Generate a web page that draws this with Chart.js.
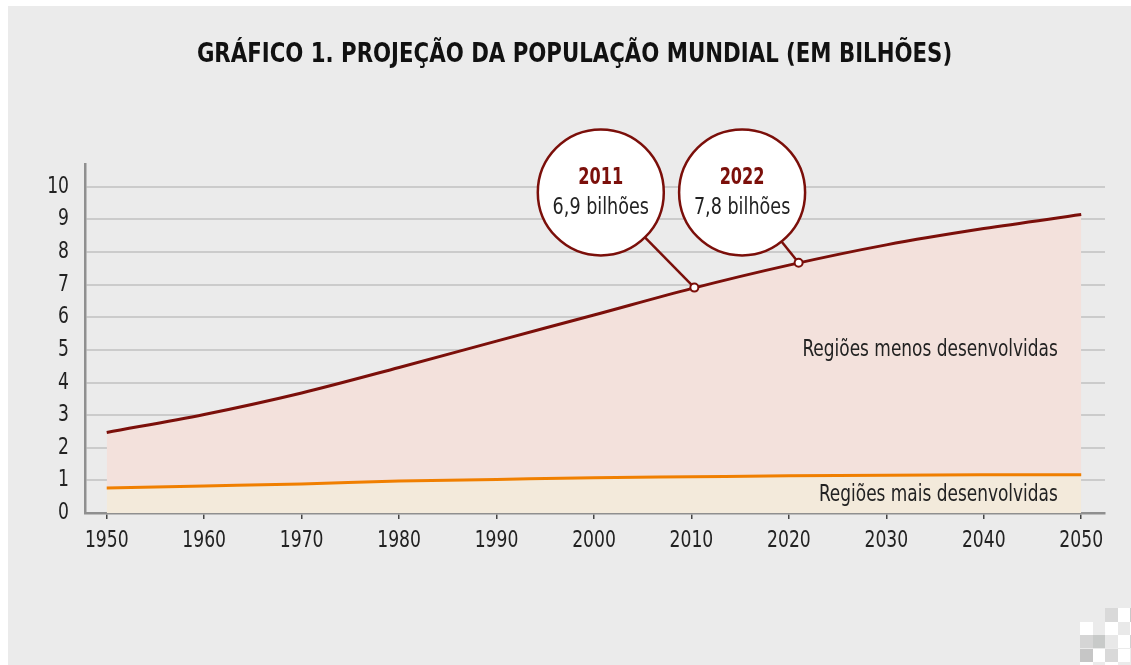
<!DOCTYPE html>
<html lang="pt">
<head>
<meta charset="utf-8">
<title>Projeção da população mundial</title>
<script src="https://cdn.jsdelivr.net/npm/chart.js@4.4.1/dist/chart.umd.min.js"></script>
<style>
  html, body { margin: 0; padding: 0; background: #ffffff; }
  body { width: 1131px; height: 665px; position: relative; overflow: hidden; }
  #panel { position: absolute; left: 8px; top: 6px; right: 0; bottom: 0; background: #ebebeb; }
  #wrap { position: absolute; left: 0; top: 0; width: 1131px; height: 665px; }
  .sq { position: absolute; width: 12.5px; height: 13.4px; }
</style>
</head>
<body>
<div id="panel"></div>
<div id="deco"></div>
<div id="wrap"><canvas id="popChart" width="1131" height="665"></canvas></div>
<script>
// --- data ---
const years = [1950, 1960, 1970, 1980, 1990, 2000, 2010, 2020, 2030, 2040, 2050];
const worldTotal = [2.47, 3.02, 3.68, 4.46, 5.27, 6.07, 6.88, 7.6, 8.22, 8.72, 9.15];   // top line (menos + mais desenvolvidas)
const moreDeveloped = [0.77, 0.83, 0.89, 0.98, 1.03, 1.08, 1.11, 1.14, 1.16, 1.17, 1.17];
const xTicks = [1950, 1960, 1970, 1980, 1990, 2000, 2010, 2020, 2030, 2040, 2050];
const yTicks = [0, 1, 2, 3, 4, 5, 6, 7, 8, 9, 10];

// callouts
const calloutYears = ['2011', '2022'];
const calloutTexts = ['6,9 bilhões', '7,8 bilhões'];
const markerX = [2010.3, 2021.0];
const markerY = [6.91, 7.67];
const bubbleX = [2000.7, 2015.2];
const bubbleY = [9.83, 9.83];

// area labels
const areaLabels = ['Regiões menos desenvolvidas', 'Regiões mais desenvolvidas'];
const areaLabelX = [2047.6, 2047.6];
const areaLabelY = [4.99, 0.55];

const TITLE = 'GRÁFICO 1. PROJEÇÃO DA POPULAÇÃO MUNDIAL (EM BILHÕES)';
const FONT = "'Liberation Sans Narrow', 'DejaVu Sans Condensed', 'Roboto', sans-serif";
const DARK_RED = '#7b0f0a';
const ORANGE = '#f07f00';

// little checker logo in the corner
const decoCells = [
  [0, 2, '#d9d9d9'], [0, 3, '#ffffff'], [0, 4, '#c8c8c8'],
  [1, 0, '#ffffff'], [1, 2, '#ffffff'], [1, 3, '#e9e9e9'], [1, 4, '#ffffff'],
  [2, 0, '#d5d5d5'], [2, 1, '#c8cac9'], [2, 2, '#e8e8e8'], [2, 3, '#ffffff'], [2, 4, '#d0d0d0'],
  [3, 0, '#c6c6c6'], [3, 1, '#ffffff'], [3, 2, '#d9d9d9'], [3, 3, '#ffffff'],
  [4, 0, '#ffffff'], [4, 2, '#ffffff']
];
const deco = document.getElementById('deco');
decoCells.forEach(([r, c, col]) => {
  const d = document.createElement('div');
  d.className = 'sq';
  d.style.left = (1080 + c * 12.5) + 'px';
  d.style.top = (608.3 + r * 13.4) + 'px';
  d.style.background = col;
  deco.appendChild(d);
});

const toPoints = arr => years.map((y, i) => ({ x: y, y: arr[i] }));

// no narrow font installed, so squeeze text horizontally around its anchor
function narrowText(ctx, text, x, y, sx) {
  ctx.save();
  ctx.translate(x, y);
  ctx.scale(sx, 1);
  ctx.fillText(text, 0, 0);
  ctx.restore();
}

// squeeze the axis tick labels the library draws
const narrowTicks = {
  id: 'narrowTicks',
  beforeDraw(chart) {
    const ctx = chart.ctx;
    const orig = ctx.fillText;
    chart.$origFillText = orig;
    ctx.fillText = function (t, x, y, mw) {
      this.save();
      this.translate(x, y);
      this.scale(0.83, 1);
      if (mw === undefined) orig.call(this, t, 0, 0);
      else orig.call(this, t, 0, 0, mw / 0.83);
      this.restore();
    };
  },
  beforeDatasetsDraw(chart) {
    if (chart.$origFillText) {
      chart.ctx.fillText = chart.$origFillText;
      delete chart.$origFillText;
    }
  }
};

// title, callout bubbles + leader lines, area labels
const calloutPlugin = {
  id: 'callouts',
  beforeDatasetsDraw(chart) {
    const { ctx, scales: { x, y } } = chart;
    const R = 63;
    ctx.save();
    ctx.textAlign = 'center';
    ctx.textBaseline = 'middle';
    ctx.fillStyle = '#111111';
    ctx.font = 'bold 27px ' + FONT;
    narrowText(ctx, TITLE, 574.5, 55, 0.876);

    calloutYears.forEach((label, i) => {
      const cx = x.getPixelForValue(bubbleX[i]);
      const cy = y.getPixelForValue(bubbleY[i]);
      const mx = x.getPixelForValue(markerX[i]);
      const my = y.getPixelForValue(markerY[i]);
      const dx = mx - cx, dy = my - cy;
      const len = Math.hypot(dx, dy);
      ctx.strokeStyle = DARK_RED;
      ctx.lineWidth = 2.5;
      ctx.beginPath();
      ctx.moveTo(cx + dx / len * R, cy + dy / len * R);
      ctx.lineTo(mx, my);
      ctx.stroke();

      ctx.beginPath();
      ctx.arc(cx, cy, R, 0, Math.PI * 2);
      ctx.fillStyle = '#ffffff';
      ctx.fill();
      ctx.stroke();

      ctx.fillStyle = DARK_RED;
      ctx.font = 'bold 23px ' + FONT;
      narrowText(ctx, label, cx, cy - 14, 0.78);
      ctx.fillStyle = '#222222';
      ctx.font = '23px ' + FONT;
      narrowText(ctx, calloutTexts[i], cx, cy + 16, 0.85);
    });
    ctx.restore();
  },
  afterDatasetsDraw(chart) {
    const { ctx, scales: { x, y } } = chart;
    ctx.save();
    ctx.fillStyle = '#222222';
    ctx.font = '23px ' + FONT;
    ctx.textAlign = 'right';
    ctx.textBaseline = 'middle';
    areaLabels.forEach((t, i) => {
      narrowText(ctx, t, x.getPixelForValue(areaLabelX[i]), y.getPixelForValue(areaLabelY[i]), 0.82);
    });
    ctx.restore();
  }
};

new Chart(document.getElementById('popChart').getContext('2d'), {
  type: 'line',
  data: {
    datasets: [
      {
        label: 'Marcos',
        type: 'scatter',
        data: markerX.map((v, i) => ({ x: v, y: markerY[i] })),
        pointRadius: 4,
        pointBorderWidth: 2,
        pointBackgroundColor: '#ffffff',
        pointBorderColor: DARK_RED,
        showLine: false,
        order: 0
      },
      {
        label: 'Regiões mais desenvolvidas',
        data: toPoints(moreDeveloped),
        borderColor: ORANGE,
        backgroundColor: '#f3eadb',
        borderWidth: 3,
        fill: 'origin',
        pointRadius: 0,
        cubicInterpolationMode: 'monotone',
        order: 2
      },
      {
        label: 'Total',
        data: toPoints(worldTotal),
        borderColor: DARK_RED,
        backgroundColor: '#f3e1dc',
        borderWidth: 3,
        fill: '-1',
        pointRadius: 0,
        cubicInterpolationMode: 'monotone',
        order: 1
      }
    ]
  },
  options: {
    responsive: false,
    animation: false,
    layout: { padding: { left: 44, right: 26, top: 164, bottom: 0 } },
    plugins: {
      legend: { display: false },
      tooltip: { enabled: false },
      title: { display: false },
      filler: { drawTime: 'beforeDatasetsDraw' }
    },
    scales: {
      x: {
        type: 'linear',
        min: 1947.77,
        max: 2052.44,
        afterBuildTicks: s => { s.ticks = xTicks.map(v => ({ value: v })); },
        afterFit: s => { s.height = 152; },
        grid: { drawOnChartArea: false, drawTicks: true, tickLength: 6, color: '#444444', lineWidth: 1.5 },
        border: { display: true, color: '#8f8f8f', width: 2.5 },
        ticks: {
          padding: 8,
          color: '#222222',
          font: { family: FONT, size: 23 },
          maxRotation: 0,
          callback: v => String(v)
        }
      },
      y: {
        min: 0,
        max: 10.7,
        afterBuildTicks: s => { s.ticks = yTicks.map(v => ({ value: v })); },
        afterFit: s => { s.width = 41; },
        grid: { color: '#cbcbcb', lineWidth: 2, drawTicks: false },
        border: { display: true, color: '#8f8f8f', width: 2.5 },
        ticks: {
          padding: 16,
          color: '#222222',
          font: { family: FONT, size: 23 },
          callback: v => String(v)
        }
      }
    }
  },
  plugins: [narrowTicks, calloutPlugin]
});
</script>
</body>
</html>
